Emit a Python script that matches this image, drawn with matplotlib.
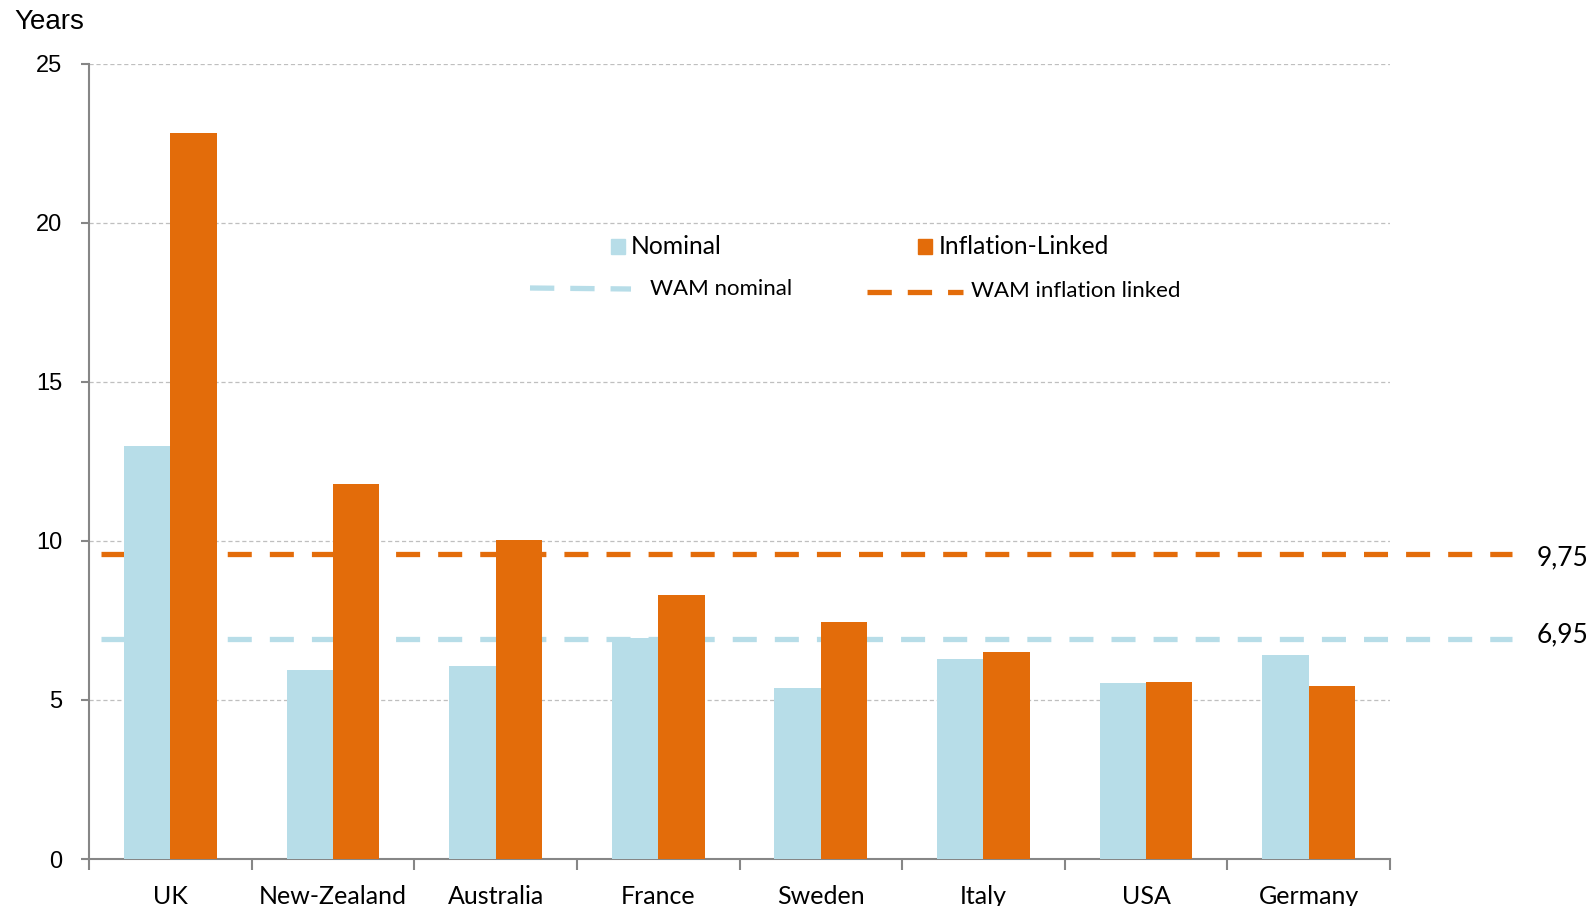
import matplotlib
matplotlib.use("Agg")
import matplotlib.pyplot as plt
import numpy as np
from matplotlib.patches import Rectangle
from matplotlib.lines import Line2D

countries = ["UK", "New-Zealand", "Australia", "France", "Sweden", "Italy", "USA", "Germany"]
nominal = [13.0, 5.95, 6.07, 6.95, 5.37, 6.30, 5.53, 6.43]
inflation_linked = [22.83, 11.80, 10.04, 8.31, 7.45, 6.52, 5.56, 5.43]
wam_nominal = 6.95
wam_inflation = 9.75
wam_nominal_line = 6.92     # drawn position in the picture
wam_inflation_line = 9.6    # drawn position in the picture
yticks = [0, 5, 10, 15, 20, 25]

BLUE = "#B7DDE8"
ORANGE = "#E36C0A"
GREY = "#868686"
FONT = ["Lato", "DejaVu Sans"]
FONT2 = ["Liberation Sans", "DejaVu Sans"]

plt.rcParams['lines.scale_dashes'] = False

W, H = 1594, 906
fig = plt.figure(figsize=(W / 100, H / 100), dpi=100)
ax = fig.add_axes([89 / W, 1 - 859 / H, (1390 - 89) / W, (859 - 64) / H])

x = np.arange(len(countries))
bw = 0.285
ax.bar(x - bw / 2, nominal, bw, color=BLUE, zorder=3)
ax.bar(x + bw / 2, inflation_linked, bw, color=ORANGE, zorder=3)

ax.set_xlim(-0.5, len(countries) - 0.5)
ax.set_ylim(0, 25)

for val, col in [(wam_inflation_line, ORANGE), (wam_nominal_line, BLUE)]:
    ln = Line2D([-0.426, 8.25], [val, val], color=col, lw=3.8,
                dashes=(17.3, 13.0), solid_capstyle='butt', dash_capstyle='butt',
                transform=ax.transData, clip_on=False, zorder=2)
    ax.add_line(ln)

ax.set_yticks(yticks)
ax.set_yticklabels([str(v) for v in yticks], fontfamily=FONT2, fontsize=17)
ax.yaxis.grid(True, color="#BFBFBF", linestyle=(0, (3, 2)), linewidth=0.9, zorder=0)
ax.set_axisbelow(True)
ax.tick_params(axis='y', length=6, width=1.5, color=GREY, pad=13)

ax.set_xticks(x)
ax.set_xticklabels(countries, fontfamily=FONT, fontsize=18)
ax.set_xticks(np.arange(-0.5, len(countries)), minor=True)
ax.tick_params(axis='x', which='major', length=0, pad=19)
ax.tick_params(axis='x', which='minor', length=8, width=1.5, color=GREY)

for s in ['top', 'right']:
    ax.spines[s].set_visible(False)
for s in ['left', 'bottom']:
    ax.spines[s].set_color(GREY)
    ax.spines[s].set_linewidth(1.5)

fig.text(14 / W, 1 - 22 / H, "Years", fontfamily=FONT2, fontsize=20, va='center', ha='left')

fig.text(1537 / W, 1 - 558 / H, "9,75", fontfamily=FONT, fontsize=19, va='center', ha='left')
fig.text(1537 / W, 1 - 635 / H, "6,95", fontfamily=FONT, fontsize=19, va='center', ha='left')

# legend
fig.patches.append(Rectangle((611 / W, 1 - 254 / H), 14 / W, 15 / H, transform=fig.transFigure,
                             color=BLUE, figure=fig))
fig.text(631 / W, 1 - 246 / H, "Nominal", fontfamily=FONT, fontsize=17.7, va='center', ha='left')
fig.patches.append(Rectangle((918 / W, 1 - 254 / H), 14 / W, 15 / H, transform=fig.transFigure,
                             color=ORANGE, figure=fig))
fig.text(939 / W, 1 - 246 / H, "Inflation-Linked", fontfamily=FONT, fontsize=17.7, va='center', ha='left')

fig.lines.append(Line2D([530 / W, 631 / W], [1 - 288 / H, 1 - 289 / H], transform=fig.transFigure,
                        color=BLUE, lw=3.8, dashes=(17.5, 11.5), figure=fig))
fig.text(650 / W, 1 - 289 / H, "WAM nominal", fontfamily=FONT, fontsize=16, va='center', ha='left')
fig.lines.append(Line2D([867 / W, 963 / W], [1 - 292 / H, 1 - 292 / H], transform=fig.transFigure,
                        color=ORANGE, lw=3.8, dashes=(17.5, 11.5), figure=fig))
fig.text(971 / W, 1 - 291 / H, "WAM inflation linked", fontfamily=FONT, fontsize=16, va='center', ha='left')

fig.savefig("out.png", dpi=100)
